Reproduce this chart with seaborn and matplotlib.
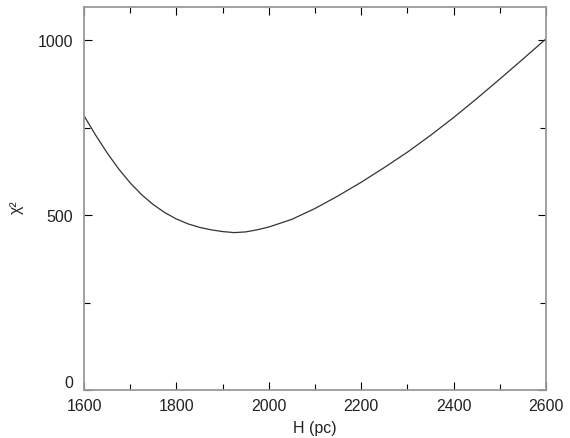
import numpy as np
import pandas as pd
import seaborn as sns
from matplotlib import pyplot as plt
from matplotlib import transforms
from matplotlib.ticker import MultipleLocator

sns.set_style('ticks')
plt.rcParams['font.family'] = ['Liberation Sans', 'DejaVu Sans']

# scale height H (pc) vs chi^2
H = [1600, 1625, 1650, 1675, 1700, 1725, 1750, 1775, 1800, 1825, 1850,
     1875, 1900, 1925, 1950, 1975, 2000, 2050, 2100, 2150, 2200, 2250,
     2300, 2350, 2400, 2450, 2500, 2550, 2600]
chi2 = [784, 729, 678, 632, 592, 558, 530, 507, 489, 475, 465,
        458, 453, 450, 452, 458, 466, 488, 519, 555, 594, 636,
        680, 728, 779, 833, 889, 946, 1004]

df = pd.DataFrame({'H': H, 'chi2': chi2})

fig = plt.figure(figsize=(5.7, 4.39), dpi=100)
ax = fig.add_axes([0.1474, 0.1093, 0.8105, 0.8725])
sns.lineplot(data=df, x='H', y='chi2', ax=ax, color='#333333',
             linewidth=0.9, solid_joinstyle='round')

ax.set_xlim(1600, 2600)
ax.set_ylim(0, 1095)
ax.xaxis.set_major_locator(MultipleLocator(200))
ax.xaxis.set_minor_locator(MultipleLocator(100))
ax.yaxis.set_major_locator(MultipleLocator(500))
ax.yaxis.set_minor_locator(MultipleLocator(250))
ax.tick_params(which='both', direction='in', top=True, right=True,
               color='black', width=0.8, labelsize=11.5, labelcolor='#222222')
ax.tick_params(axis='x', which='both', pad=6)
ax.tick_params(axis='y', which='both', pad=8)
ax.tick_params(which='major', length=6)
ax.tick_params(which='minor', length=4)
for s in ax.spines.values():
    s.set_color('#9a9a9a')
    s.set_linewidth(1.3)

ax.set_xlabel('H (pc)', fontsize=11.5, labelpad=5, color='#222222')
ax.set_ylabel('χ²', fontsize=11.5, color='#222222')
ax.yaxis.set_label_coords(-0.13, 0.48)

# the "0" label sits a bit above the axis corner in the original
fig.canvas.draw()
for lab in ax.get_yticklabels():
    if lab.get_text() == '0':
        lab.set_transform(lab.get_transform() +
                          transforms.ScaledTranslation(0, 0.09, fig.dpi_scale_trans))

plt.savefig('out.png', dpi=100)
